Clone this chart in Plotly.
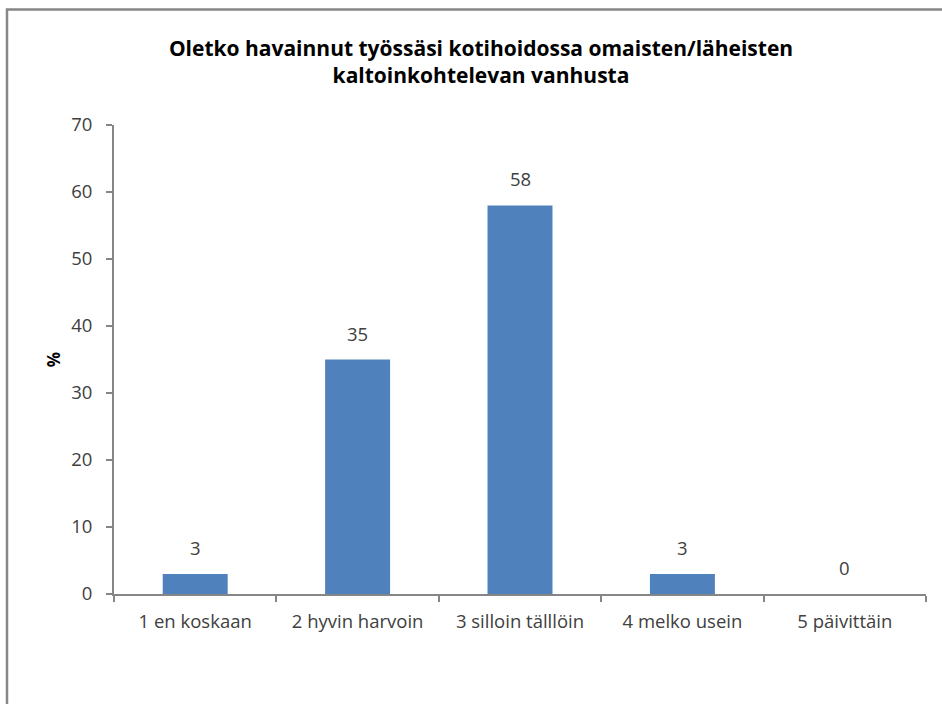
import plotly.graph_objects as go

categories = ["1 en koskaan", "2 hyvin harvoin", "3 silloin tälllöin", "4 melko usein", "5 päivittäin"]
percent = [3, 35, 58, 3, 0]
y_ticks = [0, 10, 20, 30, 40, 50, 60, 70]

title_text = "Oletko havainnut työssäsi kotihoidossa omaisten/läheisten<br>kaltoinkohtelevan vanhusta"

AXIS_GREY = "#868686"
TEXT_GREY = "#404040"
BAR_BLUE = "#4f81bd"
FONT = "'Open Sans', sans-serif"

fig = go.Figure(
    go.Bar(
        x=categories,
        y=percent,
        marker=dict(color=BAR_BLUE, line=dict(width=0)),
        cliponaxis=False,
    )
)

# value labels above each bar
for cat, val in zip(categories, percent):
    fig.add_annotation(
        x=cat,
        y=val,
        text=f"{val:.0f}",
        showarrow=False,
        yanchor="bottom",
        yshift=12,
        font=dict(size=18.5, color=TEXT_GREY, family=FONT),
    )

L, R, T, B = 114, 16, 124.5, 110
W, H = 942, 704
pw, ph = W - L - R, H - T - B

fig.update_layout(
    width=W,
    height=H,
    margin=dict(l=L, r=R, t=T, b=B, pad=0),
    paper_bgcolor="white",
    plot_bgcolor="white",
    bargap=0.6,
    showlegend=False,
    title=dict(
        text=title_text,
        x=(481 - L) / pw,
        xref="paper",
        xanchor="center",
        y=1 - 56 / H,
        yref="container",
        yanchor="middle",
        font=dict(size=21, color="#000000", family=FONT, weight="bold"),
    ),
    font=dict(family=FONT, color=TEXT_GREY),
)

fig.update_xaxes(
    type="category",
    showline=True,
    linecolor=AXIS_GREY,
    linewidth=2,
    ticks="outside",
    tickson="boundaries",
    ticklen=6,
    tickwidth=2,
    tickcolor=AXIS_GREY,
    showgrid=False,
    tickfont=dict(size=18.5, color=TEXT_GREY, family=FONT),
    ticklabelstandoff=10,
)

fig.update_yaxes(
    range=[0, 70],
    tickvals=y_ticks,
    showline=True,
    linecolor=AXIS_GREY,
    linewidth=2,
    ticks="outside",
    ticklen=6,
    tickwidth=2,
    tickcolor=AXIS_GREY,
    showgrid=False,
    zeroline=False,
    tickfont=dict(size=18.5, color=TEXT_GREY, family=FONT),
    ticklabelstandoff=10,
    title=dict(text="<b>%</b>", font=dict(size=17, color="#000000", family=FONT), standoff=6),
)

# outer chart frame (left and top edges visible within the page)
fx0 = (7 - L) / pw
fy1 = (H - B - 9) / ph
fig.add_shape(
    type="rect",
    xref="paper",
    yref="paper",
    x0=fx0,
    x1=(W + 20 - L) / pw,
    y0=-(B + 20) / ph,
    y1=fy1,
    line=dict(color="#878787", width=2.5),
    fillcolor="rgba(0,0,0,0)",
    layer="below",
)

fig.write_html("out.html")
